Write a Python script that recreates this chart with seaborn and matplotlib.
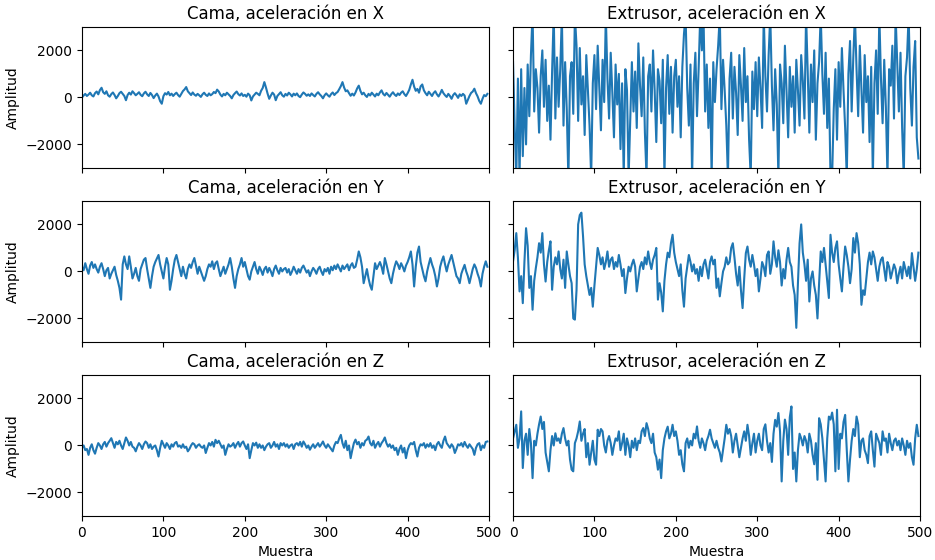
import numpy as np
import pandas as pd
import matplotlib
matplotlib.use("Agg")
import matplotlib.pyplot as plt
import seaborn as sns

# Sample index (every second sample)
muestra = np.arange(0, 500, 2)

cama_x = [
    0, 80, 150, 60, 120, 200, 90, 40, 180, 250, 130, 310, 410, 220, 150, 260, 90, 30, 140, 210, 100, -40, 60, 180, 240,
    150, 60, -120, 100, 200, 120, 260, 180, 90, 150, 220, 110, 50, 170, 240, 130, 60, 190, 100, -30, 80, 160, 40, -160, -270,
    50, 180, 120, 230, 90, 160, 60, 140, 200, 100, 30, 150, 270, 340, 440, 260, 180, 100, 210, 120, 70, 150, 90, 20, 130,
    200, 110, 60, 170, 90, 140, 230, 180, 330, 250, 120, 40, 150, 90, 200, 130, 60, -40, 100, 180, 250, 140, 80, 170, 60,
    110, 30, 160, 90, -130, 40, 120, 200, 150, 90, 280, 400, 650, 420, 160, -60, 80, 200, 120, -120, 60, 140, 220, 90, 30,
    150, 80, 200, 130, 40, 160, 90, 170, 60, 10, 120, 210, 150, 70, 130, 60, 170, 100, 40, 150, 220, 130, 60, -40, 90,
    170, 90, 30, 140, 210, 100, 180, 230, 350, 480, 650, 420, 260, 300, 180, 70, 160, 80, 210, 380, 500, 280, 130, 200, 90,
    20, 150, 80, 200, 120, 40, 160, 90, 210, 300, 150, 80, 190, 110, 30, 140, 220, 120, 60, 170, 100, 200, 260, 140, 60,
    180, 320, 550, 750, 460, 280, 360, 200, 470, 550, 300, 180, 90, 240, 150, 60, 190, 260, 130, 40, 160, 320, 180, 90, 20,
    150, 60, -60, 100, 180, 90, -20, 130, 60, 150, 80, -270, -100, 60, 190, 250, 370, 180, 40, -150, -270, -60, 100, 50, 150,
]

extrusor_x = [
    1500, -1200, -3400, 800, -3500, 1200, -2500, 400, -2000, 1400, -800, 1800, 3600, -600, 1200, 400, -1500, 900, 2000, -400, 1600, -1000, 500, -1800, 1100,
    3600, -900, 1700, -400, 1200, 3500, -1200, 1500, -500, -3500, 900, 1500, -700, 3500, 2200, -1000, 2100, -300, 900, -1600, 1800, 300, -1200, -3400, 600,
    1800, -500, 2200, 400, -1400, 1600, -200, 3500, 800, -900, 1900, 200, -1700, 1400, -300, 1000, -2200, 600, -3400, 1200, 300, -3400, -900, 1500, -600,
    1100, -1300, 2300, 500, -800, 1700, -1500, -3400, 900, 1400, -600, 2000, 300, -1900, 1200, 700, -1100, 1600, -3400, 400, 1800, -700, 1300, -1500, 900,
    1600, -400, 900, -1700, 1300, 2700, 3500, 400, -1200, 1400, -3400, 600, 1900, -800, 1200, 3500, 2000, 3500, -600, 1400, -1300, 800, -3400, 1500, -200,
    1200, 2200, 3500, -500, 1600, 300, -1200, -3400, 800, 1900, -900, 1300, 200, -1600, 1800, 500, -1000, 2100, -200, 900, -1800, -3400, 1100, -500, 1500,
    -800, 1700, 400, -1300, 3500, 900, -600, 1800, 3500, 500, -1400, 1200, -300, -3400, 1400, 600, -1100, 2200, 200, -1700, 1300, -400, 900, -1500, 1600,
    300, -1200, 1800, 700, -900, 3500, 1100, -1500, 1400, -200, 2000, -1800, 600, 1500, 3500, 1000, -700, 1900, -1300, 800, -3400, -3400, -500, 1200, -1800,
    1500, -400, 2100, 300, -1300, -3400, 1000, 2400, -600, 1700, 3500, 1200, -800, 2200, 400, -1500, 1800, -200, 900, -1900, 1300, -3400, 600, 2000, -700,
    3500, 800, -1100, 1600, -400, -3400, 1200, 500, 2200, -900, 3500, 1500, -600, 1900, -1300, -3400, 900, 1700, 3500, 400, -1200, 1300, 2400, -1700, -2600,
]

cama_y = [
    200, 50, 350, 100, -100, 250, 400, 150, 300, 100, -50, 200, 350, 100, -200, 50, 150, -300, -100, 50, 200, -150, -400, -700, -1200,
    300, 640, 300, 100, 640, 200, -300, -100, 150, -200, -400, 100, 300, 500, 570, 100, -300, -700, -200, 200, 400, 550, 700, 300, 0,
    -300, 200, 570, 300, -780, -400, 100, 500, 700, 400, 100, -200, 200, -100, -300, 100, 300, 150, 400, 570, 250, -100, 200, 0, -200,
    -400, -200, 100, 300, 200, 430, 100, 350, 430, 100, -200, 0, 200, -100, 100, 300, 570, 200, -300, -700, -200, 100, 300, 570, 200,
    400, 100, -200, -350, 0, 200, 400, 100, -100, 200, 50, -150, 100, 200, -50, 150, 0, -200, 100, 250, 50, -100, 150, 0, 100,
    150, -50, 100, -150, 0, 200, 50, -100, 100, -50, 150, 250, 100, -50, 50, -200, 0, 150, 50, -100, 100, 200, 0, -150, 100,
    0, 150, -100, 200, 50, 250, 100, 300, 150, 0, 250, 100, 200, 300, 50, 250, 350, 150, 200, 500, 850, 600, 200, -500, -200,
    100, -300, -600, -780, -200, 350, 100, 250, 400, 200, -100, 570, 300, 0, -300, -500, -100, 200, 430, 300, 100, 350, 200, 0, 250,
    400, 600, 850, 300, -640, 200, 800, 1060, 400, 100, -200, -420, 0, 300, 570, 300, 100, -200, -640, -300, 200, 450, 640, 300, 0,
    300, 500, 700, 400, 100, -200, -300, -500, -100, 100, 280, 0, -200, -500, -200, 100, 300, 150, -100, -300, -640, -100, 200, 430, 200,
]

extrusor_y = [
    430, 900, 1630, 600, -850, -200, -1350, 400, 1840, 1100, -700, -200, -1630, -400, 140, 600, 1200, 800, 1630, 300, -430, 400, 900, 1280, -780,
    200, 600, 300, 850, 100, -300, 500, -700, 850, 300, -200, -500, -2000, -2050, -800, 2000, 2400, 2500, 1500, 300, -200, -600, -1000, -700, -1500,
    -600, 200, 1000, 700, 300, 600, 100, 400, 850, 200, 500, 600, 100, 400, 200, 700, 300, -200, 100, -920, -300, 200, 0, 300, 500,
    200, -850, -300, 200, 400, 100, 600, 300, 850, 400, 100, 500, 700, 1000, -1200, -500, -900, -1700, -400, 300, 800, 600, 1200, 1560, 800,
    400, 100, -200, 300, -800, -1500, -300, 200, 700, 400, 0, 300, -100, 100, -400, 200, -200, 300, 500, 100, -300, 400, 640, 300, 500,
    -700, -300, -1060, -500, 0, 200, 600, 300, 400, 1000, 1200, 600, -100, -600, 200, -800, -1560, -300, 780, 1060, 500, 200, 700, 300, -200,
    100, -850, -300, 400, 200, -200, 700, 850, -100, 300, 1280, 600, 200, 900, 400, -600, 100, -300, 500, 1000, 400, 200, -600, -1000, -2400,
    -500, 1200, 2000, 800, 300, -400, 500, -1280, -300, 0, -600, -1000, -2000, -500, 850, 400, 1000, 300, -400, -1130, 1560, 800, 400, 1000, 1280,
    300, -300, -850, 200, 1060, 700, 200, -500, 100, 1420, 800, 1630, 1200, 300, -1420, -800, -1000, -300, 400, 800, 300, 850, 600, 100, -400,
    200, 500, 600, 100, -400, 400, 200, -300, 0, 300, 100, -500, -100, 200, -300, 400, 100, -200, 200, -300, 780, 200, -400, 100, 800,
]

cama_z = [
    -100, 0, -200, -150, -400, -100, 50, -200, -350, -100, 100, 0, -150, 50, 150, -50, 100, 200, 310, 100, -100, 150, 50, 200, 0,
    -150, 100, 340, 200, 0, 150, -50, -100, -250, -50, 100, 0, -150, 50, 170, 100, -100, 50, -150, -50, 0, -200, -470, -100, 200,
    50, -100, 100, 0, -150, 50, -50, 100, 150, -50, 0, -100, 50, -100, -50, -250, -150, 0, 100, 50, -100, 0, 50, -50, -100,
    0, -320, -100, 100, 0, 150, -50, 240, 100, 200, 50, -100, 0, -400, -150, 50, -50, 0, 100, -100, 50, 150, -50, 100, 170,
    0, -150, 50, -540, -200, 100, 0, 120, -100, 50, -100, 0, -200, -50, 50, 100, -100, 0, 150, -50, 50, -150, 100, 0, 100,
    -50, 50, -100, 0, 50, -150, 50, 100, 0, 150, -50, 170, 50, -100, 0, -180, -50, 50, -100, 0, 100, -50, 50, 170, 0,
    -100, 50, -50, -150, -250, 0, 150, 100, 300, 450, 100, -100, 200, -200, 0, -540, -200, 100, 250, 50, 150, -100, 100, 0, 200,
    250, 380, 100, 0, 200, -100, 50, 150, -50, 100, 200, 340, 100, -50, 50, -100, 0, -200, -100, -400, -150, 0, -300, -100, -540,
    -200, 0, 100, 50, 150, -200, -470, -100, 50, 0, 100, -100, 50, -50, 100, -100, 0, -200, 50, 150, 0, -100, 200, 380, 100,
    0, -100, 50, -50, -320, -150, 50, 0, 100, -50, 150, 0, -100, 50, -50, -150, -400, -100, 50, 100, -200, 0, -100, 150, 170,
]

extrusor_z = [
    300, 600, 880, -100, 300, 1450, -960, 200, 500, -400, 700, 100, -1390, 200, 0, 500, 900, 1230, 700, 1000, -300, -700, -1100, -200, 400,
    0, 520, 200, 300, 100, 500, 740, 300, 0, 200, -600, -1030, -1100, 100, 300, 600, 1020, 200, 500, 700, -500, 100, -820, -300, 200,
    -600, -820, 670, 400, 700, 600, 0, -300, 200, 400, 100, -400, 0, 300, 200, 600, -200, 100, 500, -400, 300, 0, -500, 200, -100,
    300, -200, 200, 100, 600, 740, 400, 950, 700, 300, 100, 500, -300, -500, -1030, -600, -1390, -200, 300, 600, 800, 300, 500, 880, 400,
    600, 200, -400, -200, -800, -1100, 100, 300, -100, 200, 0, 500, 300, 810, 200, -100, 300, 100, -200, 200, 400, 670, 300, 100, -100,
    200, -100, -300, -680, -200, 300, 880, 500, 700, 400, -300, 200, 500, 0, -500, -100, 300, 600, 200, 880, 400, -400, 100, 500, -300,
    200, 500, 0, -200, 700, 900, 200, -300, 100, -700, 500, 1090, 800, 1380, 600, -1530, 200, 1100, 700, -400, 1200, 1660, -1000, -300, -1530,
    -200, 500, 300, 0, 400, 200, -300, 500, 200, -400, -800, 100, -1460, 1160, 900, 300, -600, -1530, 300, 1230, 1100, 1400, 900, -1100, 1520,
    -1000, 500, 300, 1000, 1300, -200, -1530, -600, 200, 700, 400, 1230, 900, -500, 200, 300, -200, -400, -750, 400, 600, -200, -900, 500, 300,
    100, -400, 600, 200, 300, -300, 500, 100, -200, 200, 300, 0, 200, -200, 300, 0, -400, 200, -100, 100, -500, -820, 300, 880, 400,
]

titles = [
    ["Cama, aceleración en X", "Extrusor, aceleración en X"],
    ["Cama, aceleración en Y", "Extrusor, aceleración en Y"],
    ["Cama, aceleración en Z", "Extrusor, aceleración en Z"],
]
series = [
    [cama_x, extrusor_x],
    [cama_y, extrusor_y],
    [cama_z, extrusor_z],
]

fig, axes = plt.subplots(3, 2, figsize=(9.35, 5.6), dpi=100, sharex=True, sharey=True)
fig.subplots_adjust(left=0.0877, right=0.984, top=0.952, bottom=0.0786,
                    wspace=0.059, hspace=0.234)

for r in range(3):
    for c in range(2):
        ax = axes[r, c]
        df = pd.DataFrame({"Muestra": muestra, "Amplitud": series[r][c]})
        sns.lineplot(data=df, x="Muestra", y="Amplitud", ax=ax,
                     color="#1f77b4", linewidth=1.5)
        ax.set_title(titles[r][c], fontsize=12)
        ax.set_xlim(0, 500)
        ax.set_ylim(-3000, 3000)
        ax.set_yticks([-2000, 0, 2000])
        ax.set_xticks([0, 100, 200, 300, 400, 500])
        if c == 0:
            ax.set_ylabel("Amplitud")
        else:
            ax.set_ylabel("")
        if r == 2:
            ax.set_xlabel("Muestra")
        else:
            ax.set_xlabel("")

fig.savefig("out.png", dpi=100)
